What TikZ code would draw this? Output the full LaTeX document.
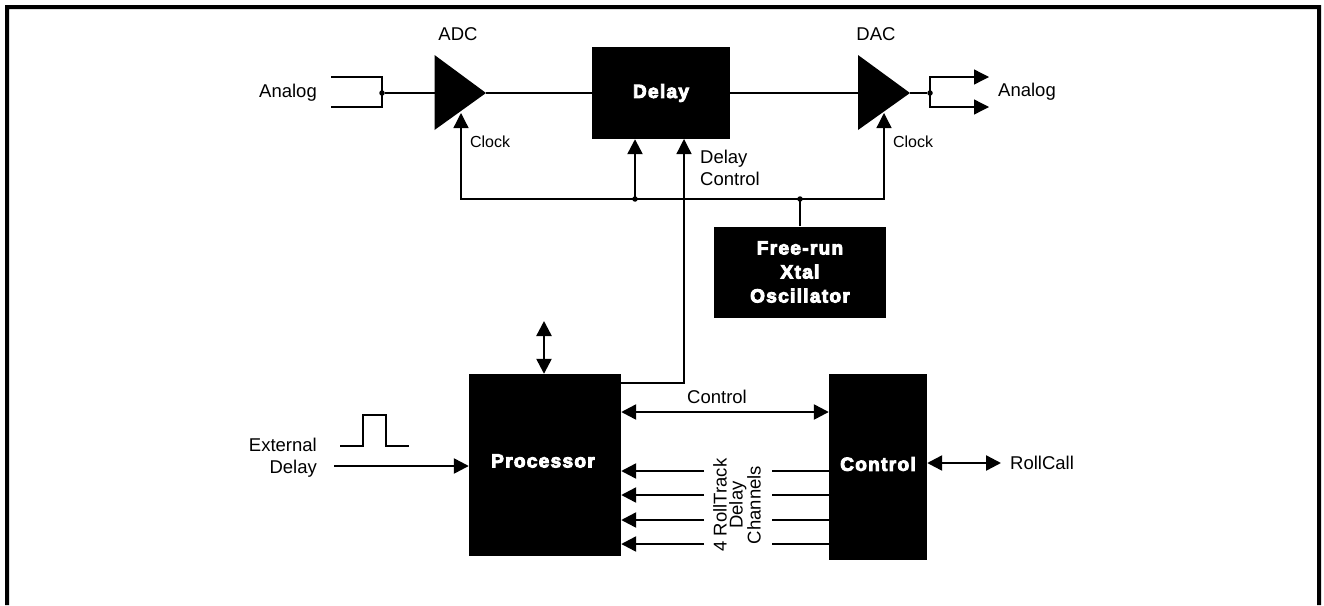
\documentclass[tikz,border=0pt]{standalone}
\usepackage{fontspec}
\setmainfont{Liberation Sans}
\newfontfamily\blockfont[FakeBold=5,LetterSpace=7]{Liberation Sans Bold}
\usetikzlibrary{arrows.meta}
\tikzset{
	box/.style={fill=black,inner sep=0pt,text=white,align=center,font=\blockfont\fontsize{19}{24}\selectfont},
	lbl/.style={inner sep=0pt,align=center,font=\fontsize{18.5}{22}\selectfont},
	small/.style={inner sep=0pt,font=\fontsize{16}{19}\selectfont},
	thick wire/.style={line width=2.4pt},
	thin wire/.style={line width=1.3pt},
	tip/.style={-{Triangle[length=15pt,width=15pt]}},
	both tips/.style={{Triangle[length=15pt,width=15pt]}-{Triangle[length=15pt,width=15pt]}},
	dot/.style={circle,fill=black,inner sep=0pt,minimum size=5.5pt}
}

\begin{document}
\begin{tikzpicture}[x=1pt,y=-1pt]
			%%%%% START %%%%%
			\def\ymid{93}
			\def\yclk{199}
			\def\yamp{55}
			\def\ybot{130}
			\useasboundingbox (0,0) rectangle (1324,605);
			
			% frame, open at the bottom
			\fill[black] (5,605) -- (5,5) -- (1321,5) -- (1321,605) -- (1317,605) -- (1317,9) -- (9,9) -- (9,605) -- cycle;
			
			% blocks
			\node[box,minimum width=138pt,minimum height=92pt] (delay) at (661,\ymid) {Delay};
			\node[box,minimum width=172pt,minimum height=91pt] (xtal) at (800,272) {Free-run\\Xtal\\Oscillator};
			\node[box,minimum width=152pt,minimum height=182pt] (proc) at (545,465) {};
			\node[box] (proclbl) at (543,461) {Processor};
			\node[box,minimum width=98pt,minimum height=186pt] (ctrl) at (878,467) {};
			\node[box] (ctrllbl) at (878,464) {Control};
			
			% converters
			\coordinate (adctip) at (486,\ymid);
			\coordinate (dactip) at (910,\ymid);
			\fill[black] (434.5,\yamp) -- (adctip) -- (434.5,\ybot) -- cycle;
			\fill[black] (858,\yamp) -- (dactip) -- (858,\ybot) -- cycle;
			\coordinate (adcin) at (434.5,\ymid);
			\coordinate (dacin) at (858,\ymid);
			\coordinate (adcclk) at (461,113);
			\coordinate (dacclk) at (884,113);
			
			% top signal path
			\node[dot] (injoin) at (382,\ymid) {};
			\node[dot] (outjoin) at (930,\ymid) {};
			\coordinate (inup) at (331,77);
			\coordinate (indn) at (331,107);
			\draw[thin wire] (inup) -| (injoin.center) |- (indn);
			\draw[thick wire] (injoin) -- (adcin);
			\draw[thick wire] (adctip) -- (delay.west);
			\draw[thick wire] (delay.east) -- (dacin);
			\draw[thick wire] (dactip) -- (outjoin);
			\coordinate (outup) at (989,77);
			\coordinate (outdn) at (989,107);
			\draw[thin wire,tip] (outjoin.center) |- (outup);
			\draw[thin wire,tip] (outjoin.center) |- (outdn);
			
			% clock
			\node[dot] (clkdelay) at (635,\yclk) {};
			\node[dot] (clkxtal) at (800,\yclk) {};
			\draw[thin wire,tip] (clkdelay.center) -| (adcclk);
			\draw[thin wire,tip] (clkdelay.center) -| (dacclk);
			\draw[thick wire,tip] (clkdelay.center) -- (clkdelay |- delay.south);
			\draw[thick wire] (xtal.north) -- (clkxtal.center);
			
			% delay control
			\coordinate (dcstart) at (proc.east |- 0,383);
			\coordinate (dcend) at (684,139);
			\draw[thin wire,tip] (dcstart) -| (dcend);
			
			% processor and control
			\coordinate (busend) at (544,321);
			\draw[thick wire,both tips] (busend) -- (busend |- proc.north);
			\coordinate (extin) at (334,466);
			\draw[thick wire,tip] (extin) -- (extin -| proc.west);
			\coordinate (ctrlbus) at (0,412);
			\draw[thick wire,both tips] (ctrlbus -| proc.east) -- (ctrlbus -| ctrl.west);
			\foreach \y in {471,495,520,544} {
				\coordinate (chan) at (0,\y);
				\draw[thick wire,tip] (chan -| 704,0) -- (chan -| proc.east);
				\draw[thick wire] (chan -| 772,0) -- (chan -| ctrl.west);
			}
			\coordinate (rollend) at (1001,463);
			\draw[thick wire,both tips] (rollend -| ctrl.east) -- (rollend);
			
			% pulse
			\coordinate (pulsea) at (340,446);
			\coordinate (pulseb) at (409,446);
			\draw[thin wire] (pulsea) -- (363,446) -- (363,415) -- (386,415) -- (386,446) -- (pulseb);
			
			% labels
			\node[lbl] (analogin) at (288,93) {Analog};
			\node[lbl] (analogout) at (1027,92) {Analog};
			\node[lbl] (adclbl) at (458,34) {ADC};
			\node[lbl] (daclbl) at (876,34) {DAC};
			\node[small] (clka) at (490,142) {Clock};
			\node[small] (clkb) at (913,142) {Clock};
			\node[lbl,align=left,anchor=west] (dctl) at (700,168) {Delay\\Control};
			\node[lbl] (ctrltxt) at (717,397) {Control};
			\node[lbl,align=right,anchor=east] (extlbl) at (317,458) {External\\Delay};
			\node[lbl,anchor=west] (rolllbl) at (1010,463) {RollCall};
			\node[lbl,rotate=90,font=\fontsize{18.5}{16}\selectfont] (chanlbl) at (737,505) {4 RollTrack\\Delay\\Channels};
			%%%%% END %%%%%
		\end{tikzpicture}
\end{document}
